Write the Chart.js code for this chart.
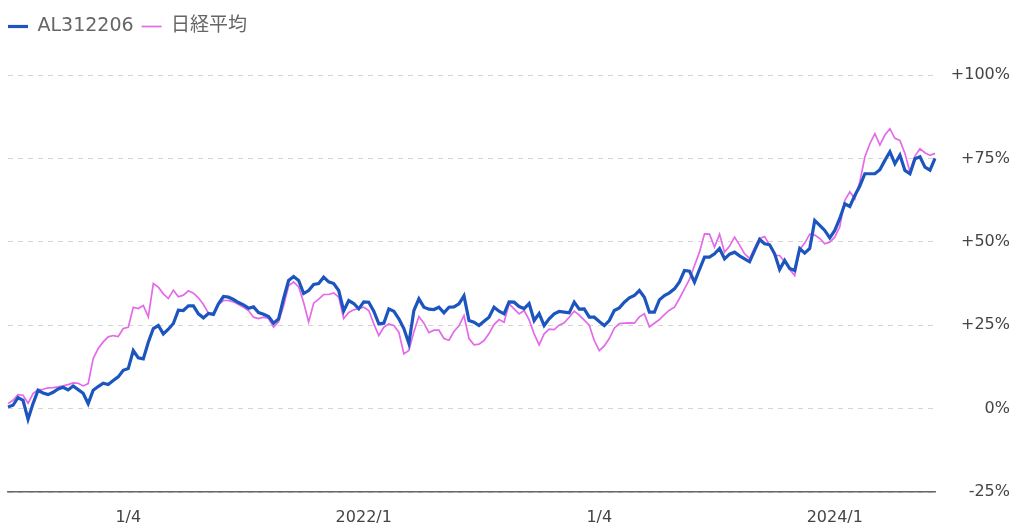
<!DOCTYPE html>
<html lang="ja">
<head>
<meta charset="utf-8">
<title>AL312206 / 日経平均</title>
<script src="https://cdn.jsdelivr.net/npm/chart.js@4.4.1/dist/chart.umd.min.js"></script>
<style>
  html, body { margin: 0; padding: 0; background: #fff; }
</style>
</head>
<body>
<canvas id="chart" width="1024" height="531"></canvas>
<script>
const seriesNames = ["AL312206", "日経平均"];

// % change since start, one value every ~8 days
const fundValues = [
  0.5, 1.0, 3.3, 2.5, -3.2, 1.5, 5.5, 4.7, 4.2, 4.9,
  5.9, 6.4, 5.6, 6.8, 5.7, 4.6, 1.5, 5.5, 6.6, 7.6,
  7.2, 8.4, 9.5, 11.5, 12.0, 17.4, 15.2, 14.9, 19.9, 24.0,
  24.9, 22.4, 23.8, 25.5, 29.5, 29.4, 30.8, 30.8, 28.4, 27.2,
  28.5, 28.2, 31.4, 33.6, 33.4, 32.7, 31.8, 31.1, 30.1, 30.5,
  28.8, 28.3, 27.6, 25.6, 26.9, 33.0, 38.4, 39.6, 38.4, 34.5,
  35.4, 37.2, 37.5, 39.4, 38.0, 37.5, 35.4, 29.3, 32.4, 31.5,
  29.9, 32.0, 31.9, 29.2, 25.4, 25.6, 29.9, 29.2, 26.9, 24.0,
  19.5, 29.4, 32.9, 30.4, 29.8, 29.7, 30.4, 28.7, 30.4, 30.5,
  31.4, 33.8, 26.4, 25.9, 24.9, 26.2, 27.4, 30.4, 29.2, 28.4,
  32.0, 31.9, 30.6, 30.0, 31.5, 26.4, 28.5, 24.9, 26.9, 28.4,
  29.1, 28.9, 28.7, 31.9, 29.8, 29.9, 27.4, 27.4, 26.1, 24.9,
  26.4, 29.4, 30.2, 31.9, 33.2, 33.9, 35.4, 33.4, 28.9, 28.9,
  32.6, 33.9, 34.7, 35.9, 38.0, 41.4, 41.2, 37.9, 41.7, 45.4,
  45.4, 46.4, 48.0, 44.9, 46.3, 46.9, 45.8, 44.9, 44.0, 47.4,
  50.7, 49.4, 49.1, 46.4, 41.7, 44.4, 42.0, 41.4, 48.0, 46.6,
  48.0, 56.4, 54.9, 53.4, 51.2, 53.4, 57.0, 61.4, 60.6, 63.9,
  66.7, 70.4, 70.4, 70.4, 71.6, 74.4, 77.0, 73.4, 76.0, 71.4,
  70.4, 74.9, 75.5, 72.4, 71.5, 75.0
];

const nikkeiValues = [
  1.5, 2.5, 4.2, 4.0, 1.6, 4.5, 5.7, 5.8, 6.2, 6.3,
  6.5, 6.8, 7.2, 7.7, 7.6, 6.8, 7.5, 15.0, 18.0, 20.0,
  21.5, 21.9, 21.6, 24.0, 24.4, 30.4, 30.0, 30.9, 27.5, 37.5,
  36.4, 34.4, 33.0, 35.5, 33.5, 34.0, 35.3, 34.6, 33.2, 31.2,
  28.6, 28.6, 31.2, 32.4, 32.4, 32.0, 31.2, 30.4, 29.4, 27.4,
  27.0, 27.4, 27.0, 24.4, 26.0, 30.8, 36.8, 38.0, 36.5, 31.8,
  26.0, 31.6, 32.8, 34.2, 34.2, 34.7, 33.4, 27.0, 28.8, 29.6,
  30.0, 30.4, 29.4, 25.4, 21.9, 24.4, 25.4, 24.9, 22.9, 16.4,
  17.4, 23.0, 27.6, 25.6, 22.8, 23.5, 23.5, 21.0, 20.5, 23.1,
  24.8, 27.9, 21.0, 19.1, 19.3, 20.4, 22.5, 25.2, 26.7, 25.9,
  31.4, 29.9, 28.4, 29.4, 26.6, 22.4, 19.1, 22.4, 23.8, 23.7,
  25.0, 25.7, 27.4, 29.2, 28.0, 26.5, 25.0, 20.4, 17.4, 18.8,
  21.0, 24.1, 25.5, 25.6, 25.7, 25.6, 27.5, 28.4, 24.5, 25.6,
  26.7, 28.2, 29.5, 30.4, 33.0, 35.9, 38.7, 42.9, 46.9, 52.4,
  52.3, 48.4, 52.3, 46.9, 48.7, 51.4, 49.0, 46.4, 45.0, 48.2,
  51.0, 51.6, 49.0, 45.9, 45.9, 44.0, 41.7, 39.9, 47.7, 49.6,
  52.3, 52.0, 51.0, 49.4, 49.9, 51.4, 54.5, 62.4, 65.0, 62.9,
  68.0, 75.4, 79.4, 82.4, 79.0, 82.0, 83.9, 81.0, 80.4, 76.5,
  70.9, 75.7, 77.9, 76.7, 75.9, 76.5
];

// x tick labels and the sample they sit on
const tickIndex = [24, 71, 118, 165];
const tickText = ["1/4", "2022/1", "1/4", "2024/1"];

const yMin = -25;
const yMax = 100;
const yStep = 25;

const fontFamily = 'DejaVu Sans, "Noto Sans CJK JP", sans-serif';
const blue = "#1c55be";
const pink = "#e46ae8";

const labels = fundValues.map((_, i) => i);

new Chart(document.getElementById("chart").getContext("2d"), {
    type: "line",
    data: {
        labels: labels,
        datasets: [
            {
                label: seriesNames[0],
                data: fundValues,
                borderColor: blue,
                backgroundColor: blue,
                borderWidth: 3.2,
                pointRadius: 0,
                tension: 0,
                xAxisID: "x",
                yAxisID: "y"
            },
            {
                label: seriesNames[1],
                data: nikkeiValues,
                borderColor: pink,
                backgroundColor: pink,
                borderWidth: 1.7,
                pointRadius: 0,
                tension: 0,
                xAxisID: "x",
                yAxisID: "y"
            }
        ]
    },
    options: {
        responsive: false,
        animation: false,
        layout: { padding: { top: 9, right: 14, bottom: 0, left: 0 } },
        plugins: {
            legend: {
                position: "top",
                align: "start",
                labels: {
                    usePointStyle: true,
                    pointStyle: "line",
                    pointStyleWidth: 20,
                    padding: 8,
                    color: "#666",
                    font: { family: fontFamily, size: 19 }
                }
            },
            tooltip: { enabled: false }
        },
        scales: {
            x: {
                type: "category",
                position: "bottom",
                grid: { display: false },
                border: { display: true, color: "#666", width: 1.5 },
                ticks: {
                    autoSkip: false,
                    maxRotation: 0,
                    padding: 8,
                    color: "#444",
                    font: { family: fontFamily, size: 16 },
                    callback: (value, index) => {
                        const k = tickIndex.indexOf(index);
                        return k < 0 ? null : tickText[k];
                    }
                },
                afterFit: (scale) => { scale.height = 39; }
            },
            y: {
                position: "right",
                min: yMin,
                max: yMax,
                ticks: {
                    stepSize: yStep,
                    crossAlign: "far",
                    padding: 16,
                    color: "#444",
                    font: { family: fontFamily, size: 16 },
                    callback: (v) => (v > 0 ? "+" : "") + v + "%"
                },
                grid: { color: "#d4d4d4", lineWidth: 1, drawTicks: false },
                border: { display: false, dash: [5, 5] },
                afterFit: (scale) => { scale.width = 75; }
            },
            // empty axes used only as spacers
            padTop: {
                type: "linear",
                axis: "x",
                position: "top",
                ticks: { display: false },
                grid: { display: false },
                border: { display: false },
                afterFit: (scale) => { scale.height = 29; }
            },
            padLeft: {
                type: "linear",
                axis: "y",
                position: "left",
                ticks: { display: false },
                grid: { display: false },
                border: { display: false },
                afterFit: (scale) => { scale.width = 8; }
            }
        }
    }
});
</script>
</body>
</html>
